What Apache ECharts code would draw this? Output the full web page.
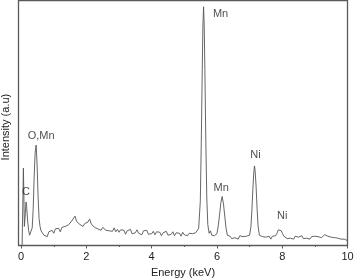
<!DOCTYPE html>
<html>
<head>
<meta charset="utf-8">
<script src="https://cdn.jsdelivr.net/npm/echarts@6/dist/echarts.min.js"></script>
<style>
html,body{margin:0;padding:0;background:#fff;}
#chart{width:357px;height:280px;}
</style>
</head>
<body>
<div id="chart"></div>
<script>
// Energy (keV) sample positions of the spectrum
var energy = [
0.03,0.04,0.07,0.10,0.13,0.15,0.17,0.20,0.23,0.26,0.28,0.31,0.34,0.37,0.40,0.43,0.46,0.49,0.52,0.55,0.58,0.61,
0.65,0.70,0.75,0.80,0.85,0.90,0.95,1.00,1.05,1.10,1.15,1.20,1.25,1.30,1.35,1.40,1.45,1.50,1.55,1.60,1.65,1.70,1.75,1.80,1.85,1.90,1.95,
2.00,2.05,2.10,2.15,2.20,2.25,2.30,2.35,2.40,2.45,2.50,2.55,2.60,2.65,2.70,2.75,2.80,2.85,2.90,2.95,
3.00,3.05,3.10,3.15,3.20,3.25,3.30,3.35,3.40,3.45,3.50,3.55,3.60,3.65,3.70,3.75,3.80,3.85,3.90,3.95,
4.00,4.05,4.10,4.15,4.20,4.25,4.30,4.35,4.40,4.45,4.50,4.55,4.60,4.65,4.70,4.75,4.80,4.85,4.90,4.95,
5.00,5.05,5.10,5.15,5.20,5.25,5.30,5.35,
5.40,5.44,5.49,5.52,5.55,5.57,5.59,5.61,5.63,5.66,5.69,5.72,5.76,5.80,5.84,5.88,5.92,5.96,
6.00,6.04,6.08,6.12,6.16,6.20,6.24,6.28,6.32,6.36,
6.40,6.45,6.50,6.55,6.60,6.65,6.70,6.75,6.80,6.85,6.90,6.95,
7.00,7.04,7.07,7.10,7.13,7.15,7.17,7.20,7.23,7.26,7.30,7.34,
7.40,7.45,7.50,7.55,7.60,7.65,7.70,7.75,7.80,
7.84,7.88,7.91,7.94,7.97,8.01,8.05,
8.10,8.15,8.20,8.25,8.30,8.35,8.40,8.45,8.50,8.55,8.60,8.65,8.70,8.75,8.80,8.85,8.90,8.95,
9.00,9.05,9.10,9.15,9.20,9.25,9.30,9.35,9.40,9.45,9.50,9.55,9.60,9.65,9.70,9.75,9.80,9.85,9.90,9.95,10.00
];
// Intensity (a.u., top of frame = 1000)
var intensity = [
0,70,316,78,130,178,160,100,62,42,34,45,72,150,280,380,410,330,200,110,78,60,
58,42,50,36,56,52,62,50,68,60,70,56,74,66,78,70,84,80,100,92,120,98,104,86,94,78,90,
84,96,108,88,92,74,82,68,76,62,74,80,62,70,60,68,58,72,56,66,
54,64,58,62,46,60,54,66,48,56,52,64,50,58,44,60,52,62,46,54,
48,58,44,56,50,54,40,52,48,58,42,50,46,56,40,52,46,50,38,54,
44,52,40,50,46,48,40,52,
52,70,180,420,720,900,975,900,720,420,190,85,50,60,42,36,40,34,
48,80,125,175,200,170,120,70,42,34,
38,28,36,32,34,26,40,32,36,28,38,32,
42,75,140,230,300,325,305,240,150,80,42,34,
36,28,34,30,38,26,38,34,40,
50,64,72,70,60,48,38,
34,28,36,30,34,26,38,30,34,32,40,28,34,30,36,26,36,32,
38,30,36,42,32,38,44,36,38,30,34,30,32,26,30,28,26,22,26,20,20
];
// Peak annotations
var peakNames = ['C', 'O,Mn', 'Mn', 'Mn', 'Ni', 'Ni'];
var peakEnergy = [0.15, 0.46, 5.59, 6.16, 7.15, 7.94];
var peakIntensity = [178, 410, 975, 200, 325, 72];
// Axis ticks
var majorTicks = [0, 2, 4, 6, 8, 10];
var minorTicks = [1, 3, 5, 7, 9];

var labelOffsets = [[0, -10], [5, -9], [17, 7], [-1, -9], [1, -11], [2, -12]];

var spectrum = energy.map(function (e, i) { return [e, intensity[i]]; });
var notes = peakNames.map(function (n, i) {
  return {
    value: [peakEnergy[i], peakIntensity[i]],
    label: { show: true, formatter: n, position: 'inside', offset: labelOffsets[i] }
  };
});

var chart = echarts.init(document.getElementById('chart'), null, { renderer: 'canvas' });
var font = 'Liberation Sans, Arial, sans-serif';
chart.setOption({
  animation: false,
  backgroundColor: '#ffffff',
  grid: {
    left: 18.5, right: 9.5, top: 0.7, bottom: 34.5,
    outerBoundsMode: 'none', containLabel: false,
    show: true, borderColor: '#5a5a5a', borderWidth: 1.3, backgroundColor: 'transparent'
  },
  xAxis: [{
    type: 'value', min: -0.08, max: 10,
    name: 'Energy (keV)', nameLocation: 'middle', nameGap: 21,
    nameTextStyle: { fontFamily: font, fontSize: 11, color: '#222' },
    axisLine: { show: false },
    splitLine: { show: false },
    axisTick: { show: true, customValues: majorTicks, length: 3, lineStyle: { color: '#5a5a5a', width: 1 } },
    axisLabel: { customValues: majorTicks, fontFamily: font, fontSize: 11, color: '#222', margin: 6 }
  }, {
    type: 'value', min: -0.08, max: 10, position: 'bottom',
    axisLine: { show: false },
    splitLine: { show: false },
    axisTick: { show: true, customValues: minorTicks, length: 1.5, lineStyle: { color: '#5a5a5a', width: 1 } },
    axisLabel: { show: false }
  }],
  yAxis: {
    type: 'value', min: 0, max: 1000,
    name: 'Intensity (a.u)', nameLocation: 'middle', nameGap: 7,
    nameTextStyle: { fontFamily: font, fontSize: 11, color: '#222', padding: [0, 8, 0, 0] },
    axisLine: { show: false }, axisTick: { show: false }, axisLabel: { show: false }, splitLine: { show: false }
  },
  series: [{
    type: 'line', data: spectrum, showSymbol: false, symbol: 'none',
    lineStyle: { color: '#555', width: 0.9 }, z: 3
  }, {
    type: 'scatter', data: notes, symbolSize: 0, silent: true,
    label: { show: true, fontFamily: font, fontSize: 11, color: '#222' }, z: 4
  }]
});
</script>
</body>
</html>
